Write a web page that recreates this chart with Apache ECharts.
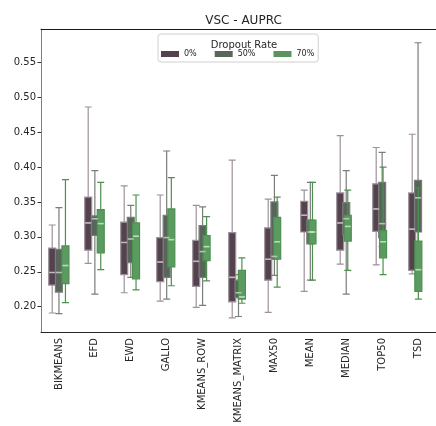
<!DOCTYPE html>
<html>
<head>
<meta charset="utf-8">
<script src="https://cdn.jsdelivr.net/npm/echarts@6/dist/echarts.min.js"></script>
<style>html,body{margin:0;padding:0;background:#fff;}#c{width:436px;height:426px;}</style>
</head>
<body>
<div id="c"></div>
<script>
// Categories
const categories = ['BIKMEANS','EFD','EWD','GALLO','KMEANS_ROW','KMEANS_MATRIX','MAX50','MEAN','MEDIAN','TOP50','TSD'];
const seriesNames = ['0%','50%','70%'];
// [min whisker, Q1, median, Q3, max whisker]
const box0 = [
  [0.191,0.231,0.249,0.284,0.317],
  [0.262,0.281,0.320,0.357,0.486],
  [0.220,0.246,0.292,0.321,0.373],
  [0.208,0.236,0.264,0.299,0.360],
  [0.199,0.229,0.265,0.295,0.345],
  [0.184,0.207,0.242,0.306,0.410],
  [0.192,0.238,0.268,0.313,0.354],
  [0.222,0.307,0.331,0.351,0.367],
  [0.261,0.281,0.320,0.363,0.445],
  [0.260,0.308,0.340,0.376,0.428],
  [0.247,0.252,0.311,0.363,0.447]
];
const box50 = [
  [0.190,0.221,0.249,0.282,0.342],
  [0.218,0.302,0.326,0.330,0.395],
  [0.242,0.263,0.297,0.328,0.345],
  [0.211,0.242,0.299,0.331,0.423],
  [0.202,0.242,0.279,0.316,0.343],
  [0.186,0.213,0.220,0.238,0.246],
  [0.245,0.268,0.272,0.350,0.388],
  [0.238,0.290,0.307,0.324,0.378],
  [0.218,0.303,0.326,0.349,0.395],
  [0.286,0.299,0.319,0.378,0.421],
  [0.246,0.307,0.356,0.381,0.578]
];
const box70 = [
  [0.206,0.233,0.259,0.287,0.382],
  [0.253,0.277,0.319,0.339,0.378],
  [0.224,0.240,0.301,0.320,0.360],
  [0.230,0.257,0.296,0.340,0.385],
  [0.237,0.266,0.286,0.302,0.329],
  [0.205,0.211,0.214,0.252,0.270],
  [0.228,0.268,0.293,0.328,0.357],
  [0.238,0.290,0.307,0.324,0.378],
  [0.252,0.294,0.315,0.331,0.367],
  [0.246,0.270,0.293,0.309,0.400],
  [0.211,0.222,0.253,0.294,0.370]
];
const boxes = [box0, box50, box70];
const fills = ['#54424f','#59645a','#5b9a60'];
const borders = ['#9d929b','#7a7d79','#4d914f'];
const medians = ['#cbc2c9','#c8cfc6','#d8eed8'];
const legendColors = ['#54424f','#5a6659','#5b925e'];

const yMin = 0.1638, yMax = 0.5977;
const offsets = [-6.8, 0, 6.8];
const FONT = 'DejaVu Sans';

const grids = offsets.map((o, i) => ({
  left: 41 + o, right: -1 - o, top: 29, bottom: 94, show: false
}));
const xAxes = offsets.map((o, i) => ({
  type: 'category', gridIndex: i, data: categories, show: i === 1,
  boundaryGap: true,
  axisLine: {lineStyle: {color: '#262626', width: 1}},
  axisTick: {alignWithLabel: true, length: 3.5, lineStyle: {color: '#262626'}},
  axisLabel: {rotate: 90, fontSize: 10, fontFamily: FONT, color: '#262626', margin: 6, interval: 0}
}));
// top spine
xAxes.push({
  type: 'category', gridIndex: 1, data: categories, position: 'top',
  axisLine: {show: true, lineStyle: {color: '#1a1a1a', width: 1}},
  axisTick: {show: false}, axisLabel: {show: false}, splitLine: {show: false}
});
const yAxes = offsets.map((o, i) => ({
  type: 'value', gridIndex: i, min: yMin, max: yMax, show: i === 1,
  splitNumber: 8,
  splitLine: {show: false},
  axisLine: {show: true, lineStyle: {color: '#808080', width: 1}},
  axisTick: {show: true, length: 3.5, lineStyle: {color: '#333'}},
  axisLabel: {fontSize: 10, fontFamily: FONT, color: '#262626', margin: 5, showMinLabel: false, showMaxLabel: false,
    formatter: v => (Math.abs(v * 20 - Math.round(v * 20)) < 1e-6 ? v.toFixed(2) : '')}
}));

const series = [];
seriesNames.forEach((name, i) => {
  series.push({
    name: name, type: 'boxplot', xAxisIndex: i, yAxisIndex: i,
    data: boxes[i], boxWidth: [7, 7],
    itemStyle: {color: fills[i], borderColor: borders[i], borderWidth: 1.2},
    emphasis: {disabled: true}, z: 2
  });
});
seriesNames.forEach((name, i) => {
  series.push({
    name: 'med' + i, type: 'scatter', xAxisIndex: i, yAxisIndex: i,
    data: boxes[i].map((b, k) => [k, b[2]]),
    symbol: 'rect', symbolSize: [6, 1.6],
    itemStyle: {color: medians[i]}, silent: true, z: 3
  });
});

const chart = echarts.init(document.getElementById('c'), null, {renderer: 'canvas'});
chart.setOption({
  animation: false,
  backgroundColor: '#fff',
  title: [
    {text: 'VSC - AUPRC', left: 238.5, top: 10, textAlign: 'center',
      textStyle: {fontSize: 12, fontWeight: 'normal', fontFamily: FONT, color: '#262626'}},
    {text: 'Dropout Rate', left: 239, top: 35, textAlign: 'center', z: 10,
      textStyle: {fontSize: 10, fontWeight: 'normal', fontFamily: FONT, color: '#262626'}}
  ],
  legend: {
    data: seriesNames.map((n, i) => ({name: n, itemStyle: {color: legendColors[i], borderWidth: 0}})),
    left: 158, top: 34, orient: 'horizontal',
    icon: 'rect', itemWidth: 18, itemHeight: 6, itemGap: 18,
    padding: [16, 4, 4, 3],
    borderColor: '#d0d0d0', borderWidth: 1, borderRadius: 3,
    backgroundColor: 'rgba(255,255,255,0.85)',
    textStyle: {fontSize: 8, fontFamily: FONT, color: '#262626'},
    selectedMode: false, z: 5
  },
  grid: grids,
  xAxis: xAxes,
  yAxis: yAxes,
  series: series
});
</script>
</body>
</html>
